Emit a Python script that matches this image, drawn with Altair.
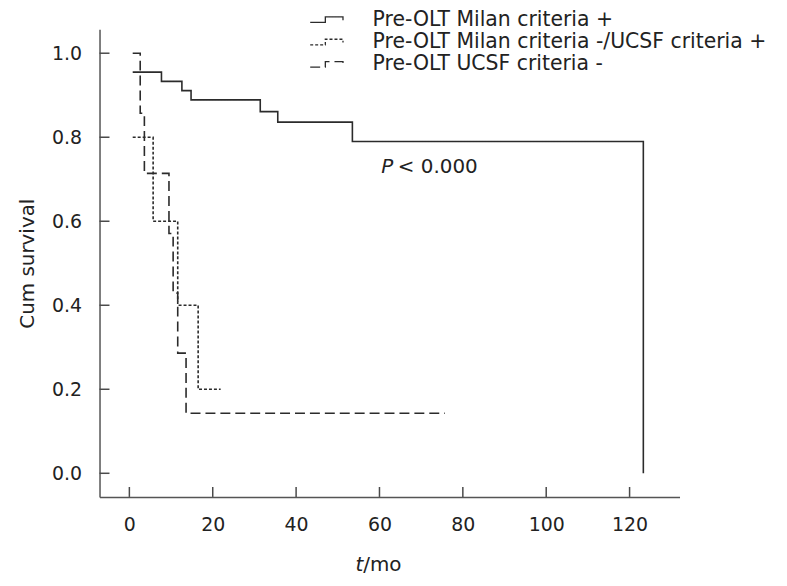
import altair as alt
import pandas as pd

# ---- data ----
series_names = [
    "Pre-OLT Milan criteria +",
    "Pre-OLT Milan criteria -/UCSF criteria +",
    "Pre-OLT UCSF criteria -",
]
milan_t = [0.8, 7.7, 12.6, 14.8, 31.4, 35.6, 53.5, 123.3]
milan_s = [0.955, 0.933, 0.911, 0.889, 0.861, 0.836, 0.790, 0.0]
mid_t = [0.8, 5.7, 11.6, 16.5, 21.9]
mid_s = [0.8, 0.6, 0.4, 0.2, 0.2]
ucsf_t = [0.8, 2.6, 3.6, 9.5, 10.5, 11.6, 13.6, 75.7]
ucsf_s = [1.0, 0.857, 0.714, 0.571, 0.429, 0.286, 0.143, 0.143]

x_ticks = [0, 20, 40, 60, 80, 100, 120]
y_ticks = [0.0, 0.2, 0.4, 0.6, 0.8, 1.0]

p_label_x = [60.4]
p_rest_x = [64.4]
p_label_y = [0.728]
xt_x = [56.1]
xt_y = [-0.218]

X_DOM = [-7.16, 131.98]
Y_DOM = [-0.0563, 1.0568]
X_TICK_LEN = 2.39     # 10px in x units
Y_TICK_LEN = 0.0237   # 10px in y units

FONT = "DejaVu Sans"
INK = "#2b2b2b"
AXIS = "#555555"
TXT = "#222222"

rows = []
for name, ts, ss in zip(series_names, [milan_t, mid_t, ucsf_t], [milan_s, mid_s, ucsf_s]):
    for i, (t, s) in enumerate(zip(ts, ss)):
        rows.append({"group": name, "t": t, "s": s, "i": i})
df = pd.DataFrame(rows)

xscale = alt.Scale(domain=X_DOM, nice=False, zero=False)
yscale = alt.Scale(domain=Y_DOM, nice=False, zero=False)

xaxis = alt.Axis(values=x_ticks, ticks=False, labelFont=FONT, labelFontSize=19,
                 labelColor=TXT, labelPadding=19, domainColor=AXIS, domainWidth=1.5,
                 grid=False, title=None, labelFlush=False)
yaxis = alt.Axis(values=y_ticks, ticks=False, format=".1f", labelFont=FONT, labelFontSize=19,
                 labelColor=TXT, labelPadding=18, domainColor=AXIS, domainWidth=1.5,
                 grid=False, title="Cum survival", titleFont=FONT, titleFontSize=20,
                 titleFontWeight="normal", titleColor=TXT, titlePadding=14, labelFlush=False)

lines = alt.Chart(df).mark_line(interpolate="step-after", strokeWidth=1.6, color=INK, clip=False).encode(
    x=alt.X("t:Q", scale=xscale, axis=xaxis),
    y=alt.Y("s:Q", scale=yscale, axis=yaxis),
    order="i:Q",
    strokeDash=alt.StrokeDash(
        "group:N",
        scale=alt.Scale(domain=series_names, range=[[1, 0], [3, 2], [10, 5]]),
        legend=alt.Legend(
            title=None, orient="none", legendX=218, legendY=-20,
            symbolType="M-2.06,0.35H-0.16V-0.35H2.06V0.06",
            symbolSize=256, symbolStrokeColor=INK, symbolFillColor="transparent",
            symbolStrokeWidth=1.3, labelFont=FONT, labelFontSize=20.5, labelColor=TXT,
            labelOffset=36, rowPadding=1.5, padding=0, labelLimit=500,
        ),
    ),
)

# inward tick marks, placed from the tick values through the shared scales
xt_df = pd.DataFrame({"t": x_ticks, "s": [Y_DOM[0]] * len(x_ticks),
                      "s2": [Y_DOM[0] + Y_TICK_LEN] * len(x_ticks)})
yt_df = pd.DataFrame({"s": y_ticks, "t": [X_DOM[0]] * len(y_ticks),
                      "t2": [X_DOM[0] + X_TICK_LEN] * len(y_ticks)})
xtick_rules = alt.Chart(xt_df).mark_rule(color="#4a4a4a", strokeWidth=1.5).encode(
    x=alt.X("t:Q", scale=xscale),
    y=alt.Y("s:Q", scale=yscale),
    y2="s2:Q",
)
ytick_rules = alt.Chart(yt_df).mark_rule(color="#4a4a4a", strokeWidth=1.5).encode(
    y=alt.Y("s:Q", scale=yscale),
    x=alt.X("t:Q", scale=xscale),
    x2="t2:Q",
)

p_df = pd.DataFrame({"t": p_label_x, "s": p_label_y})
p_df2 = pd.DataFrame({"t": p_rest_x, "s": p_label_y})
p_text = alt.Chart(p_df).mark_text(text="P", font=FONT, fontSize=20, fontStyle="italic",
                                   align="left", baseline="middle", color=TXT).encode(
    x=alt.X("t:Q", scale=xscale), y=alt.Y("s:Q", scale=yscale))
p_rest = alt.Chart(p_df2).mark_text(text="< 0.000", font=FONT, fontSize=20,
                                    align="left", baseline="middle", color=TXT).encode(
    x=alt.X("t:Q", scale=xscale), y=alt.Y("s:Q", scale=yscale))

xt_df2 = pd.DataFrame({"t": xt_x, "s": xt_y})
t_text = alt.Chart(xt_df2).mark_text(text="t", font=FONT, fontSize=20, fontStyle="italic",
                                     align="right", baseline="middle", color=TXT).encode(
    x=alt.X("t:Q", scale=xscale), y=alt.Y("s:Q", scale=yscale))
mo_text = alt.Chart(xt_df2).mark_text(text="/mo", font=FONT, fontSize=20,
                                      align="left", baseline="middle", color=TXT).encode(
    x=alt.X("t:Q", scale=xscale), y=alt.Y("s:Q", scale=yscale))

chart = alt.layer(lines, xtick_rules, ytick_rules, p_text, p_rest, t_text, mo_text).properties(
    width=583, height=470,
    autosize=alt.AutoSizeParams(type="none"),
    padding={"left": 92, "top": 20, "right": 100, "bottom": 78},
    background="white",
).configure_view(strokeWidth=0, stroke="transparent")

chart.save("out.html", embed_options={"renderer": "svg", "actions": False})
